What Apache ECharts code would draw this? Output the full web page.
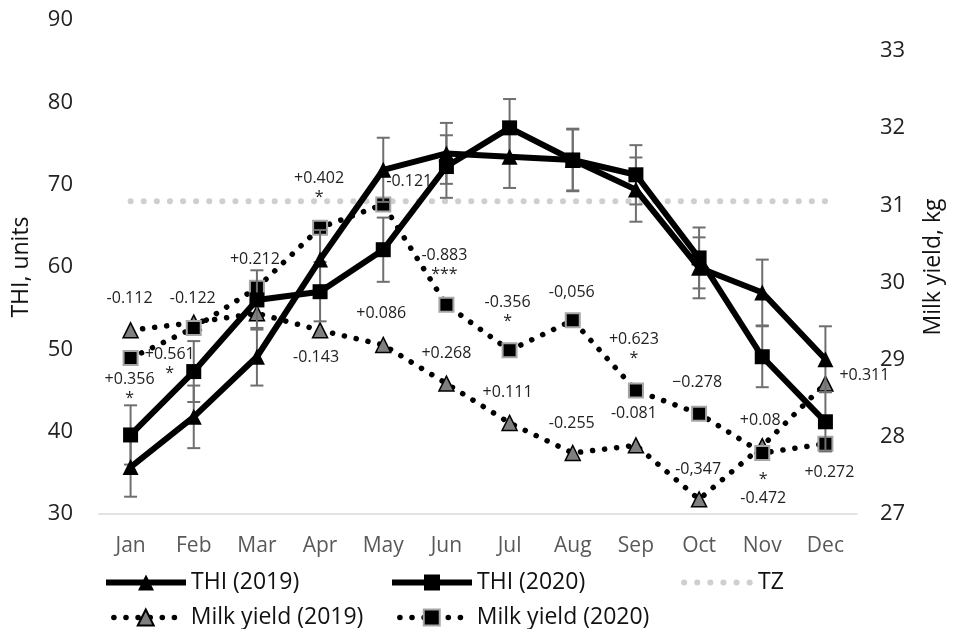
<!DOCTYPE html>
<html>
<head>
<meta charset="utf-8">
<script src="https://cdn.jsdelivr.net/npm/echarts@6/dist/echarts.min.js"></script>
<style>
html,body{margin:0;padding:0;background:#fff;}
#chart{width:958px;height:629px;}
</style>
</head>
<body>
<div id="chart"></div>
<script>
// ---- data ----
const months = ['Jan','Feb','Mar','Apr','May','Jun','Jul','Aug','Sep','Oct','Nov','Dec'];
const thi2019 = [35.7, 41.8, 49.1, 60.9, 71.8, 73.8, 73.4, 73.0, 69.4, 59.9, 56.9, 48.8];
const thi2019Err = [3.6, 3.8, 3.5, 3.6, 3.9, 3.7, 3.8, 3.8, 3.9, 3.7, 4.0, 4.0];
const thi2020 = [39.6, 47.3, 56.0, 57.0, 62.1, 72.2, 76.9, 73.0, 71.2, 61.1, 49.1, 41.2];
const thi2020Err = [3.6, 3.7, 3.6, 3.6, 3.9, 3.8, 3.5, 3.7, 3.6, 3.7, 3.7, 3.6];
const tz = [68, 68, 68, 68, 68, 68, 68, 68, 68, 68, 68, 68];
const milk2019 = [29.38, 29.48, 29.60, 29.38, 29.19, 28.69, 28.18, 27.79, 27.89, 27.19, 27.88, 28.69];
const milk2020 = [29.02, 29.41, 29.93, 30.71, 31.01, 29.71, 29.12, 29.51, 28.60, 28.30, 27.79, 27.91];
const notes2019 = ['-0.112','-0.122','','-0.143','+0.086','+0.268','+0.111','-0.255','-0.081','-0,347','+0.08','+0.311'];
const notes2020 = ['+0.356\n*','+0.561\n*','+0.212','+0.402\n*','-0.121','-0.883\n***','-0.356\n*','-0,056','+0.623\n*','\u22120.278','*\n-0.472','+0.272'];
const thiTicks = {min: 30, max: 90, step: 10};
const milkTicks = {min: 27, max: 33.4, step: 1};

// ---- layout (label offsets, px) ----
const off2019 = [[-1,-32],[-1,-24],[0,0],[-4,27],[-2,-32],[0,-30],[-2,-30],[-1,-30],[-2,-32],[-1,-30],[-2,-26],[39,-8]];
const off2020 = [[-1,31],[-24,36],[-2,-28],[-1,-40],[26,-23],[-2,-40],[-2,-38],[-1,-28],[-2,-42],[-2,-31],[1,36],[4,29]];

const FONT = 'Open Sans';
const chart = echarts.init(document.getElementById('chart'), null, {renderer: 'canvas'});

function errSeries(name, vals, errs) {
  return {
    type: 'custom',
    name: name,
    yAxisIndex: 0,
    z: 3,
    silent: true,
    data: vals.map((v, i) => [i, v, errs[i]]),
    renderItem: function (params, api) {
      const x = api.value(0), v = api.value(1), e = api.value(2);
      const top = api.coord([x, v + e]);
      const bot = api.coord([x, v - e]);
      const hw = 6.5;
      const st = {stroke: '#6f6f6f', lineWidth: 2, fill: null};
      return {
        type: 'group',
        children: [
          {type: 'line', shape: {x1: top[0], y1: top[1], x2: bot[0], y2: bot[1]}, style: st},
          {type: 'line', shape: {x1: top[0]-hw, y1: top[1], x2: top[0]+hw, y2: top[1]}, style: st},
          {type: 'line', shape: {x1: bot[0]-hw, y1: bot[1], x2: bot[0]+hw, y2: bot[1]}, style: st}
        ]
      };
    }
  };
}

function legendAt(name, left, top, lineStyle, itemStyle) {
  const lg = {
    data: [name], left: left, top: top, padding: 0,
    itemWidth: 80, itemHeight: 20, itemGap: 0,
    selectedMode: false,
    textStyle: {fontFamily: FONT, fontSize: 23, color: '#111'},
    lineStyle: lineStyle
  };
  if (itemStyle) lg.itemStyle = itemStyle;
  return lg;
}

const solidLeg = {color: '#000', width: 6, type: 'solid'};
const dotLeg = {color: '#000', width: 5.5, type: [0.1, 12], cap: 'round', dashOffset: 4};
const tzLeg = {color: '#cfcfcf', width: 6, type: [0.1, 13], cap: 'round', dashOffset: 2};

const noteLabel = {
  show: true, position: 'inside', fontFamily: FONT, fontSize: 16, color: '#222',
  lineHeight: 19, align: 'center', verticalAlign: 'middle'
};

const option = {
  animation: false,
  backgroundColor: '#fff',
  grid: {left: 99, right: 101, top: 20, bottom: 115, containLabel: false},
  legend: [
    legendAt('THI (2019)', 103, 571, solidLeg),
    legendAt('THI (2020)', 389, 571, solidLeg),
    legendAt('TZ', 670, 571, tzLeg, {opacity: 0}),
    legendAt('Milk yield (2019)', 103, 606, dotLeg),
    legendAt('Milk yield (2020)', 389, 606, dotLeg)
  ],
  xAxis: {
    type: 'category', data: months, boundaryGap: true,
    axisLine: {show: true, lineStyle: {color: '#d9d9d9', width: 1.5}},
    axisTick: {show: false},
    axisLabel: {fontFamily: FONT, fontSize: 21, color: '#595959', margin: 22},
    splitLine: {show: false}
  },
  yAxis: [
    {
      type: 'value', min: thiTicks.min, max: thiTicks.max, interval: thiTicks.step,
      position: 'left',
      axisLine: {show: false}, axisTick: {show: false}, splitLine: {show: false},
      axisLabel: {fontFamily: FONT, fontSize: 22, color: '#222', margin: 26},
      name: 'THI, units', nameLocation: 'middle', nameGap: 66,
      nameTextStyle: {fontFamily: FONT, fontSize: 23, color: '#111'}
    },
    {
      type: 'value', min: milkTicks.min, max: milkTicks.max, interval: milkTicks.step,
      position: 'right',
      axisLine: {show: false}, axisTick: {show: false}, splitLine: {show: false},
      axisLabel: {fontFamily: FONT, fontSize: 22, color: '#222', margin: 23,
        formatter: v => (Math.abs(v - Math.round(v)) < 1e-6 ? String(Math.round(v)) : '')},
      name: 'Milk yield, kg', nameLocation: 'middle', nameGap: 65,
      nameTextStyle: {fontFamily: FONT, fontSize: 23, color: '#111'}
    }
  ],
  series: [
    {
      name: 'TZ', type: 'line', yAxisIndex: 0, z: 1, data: tz,
      symbol: 'none',
      lineStyle: {color: '#cfcfcf', width: 6, type: [0.1, 13], cap: 'round'},
      itemStyle: {color: '#cfcfcf'}
    },
    {
      name: 'Milk yield (2019)', type: 'line', yAxisIndex: 1, z: 2,
      data: milk2019.map((v, i) => ({value: v, label: {offset: off2019[i]}})),
      symbol: 'triangle', symbolSize: 15, showAllSymbol: true,
      lineStyle: {color: '#000', width: 5.5, type: [0.1, 12], cap: 'round'},
      itemStyle: {color: '#7f7f7f', borderColor: '#000', borderWidth: 1.5},
      label: Object.assign({}, noteLabel, {formatter: p => notes2019[p.dataIndex]})
    },
    {
      name: 'Milk yield (2020)', type: 'line', yAxisIndex: 1, z: 2,
      data: milk2020.map((v, i) => ({value: v, label: {offset: off2020[i]}})),
      symbol: 'rect', symbolSize: 14, showAllSymbol: true,
      lineStyle: {color: '#000', width: 5.5, type: [0.1, 12], cap: 'round'},
      itemStyle: {color: '#000', borderColor: '#a6a6a6', borderWidth: 2},
      label: Object.assign({}, noteLabel, {formatter: p => notes2020[p.dataIndex]})
    },
    errSeries('err2019', thi2019, thi2019Err),
    errSeries('err2020', thi2020, thi2020Err),
    {
      name: 'THI (2019)', type: 'line', yAxisIndex: 0, z: 4, data: thi2019,
      symbol: 'triangle', symbolSize: 16, showAllSymbol: true,
      lineStyle: {color: '#000', width: 6},
      itemStyle: {color: '#000'}
    },
    {
      name: 'THI (2020)', type: 'line', yAxisIndex: 0, z: 4, data: thi2020,
      symbol: 'rect', symbolSize: 15, showAllSymbol: true,
      lineStyle: {color: '#000', width: 6},
      itemStyle: {color: '#000'}
    }
  ]
};
chart.setOption(option);
</script>
</body>
</html>
